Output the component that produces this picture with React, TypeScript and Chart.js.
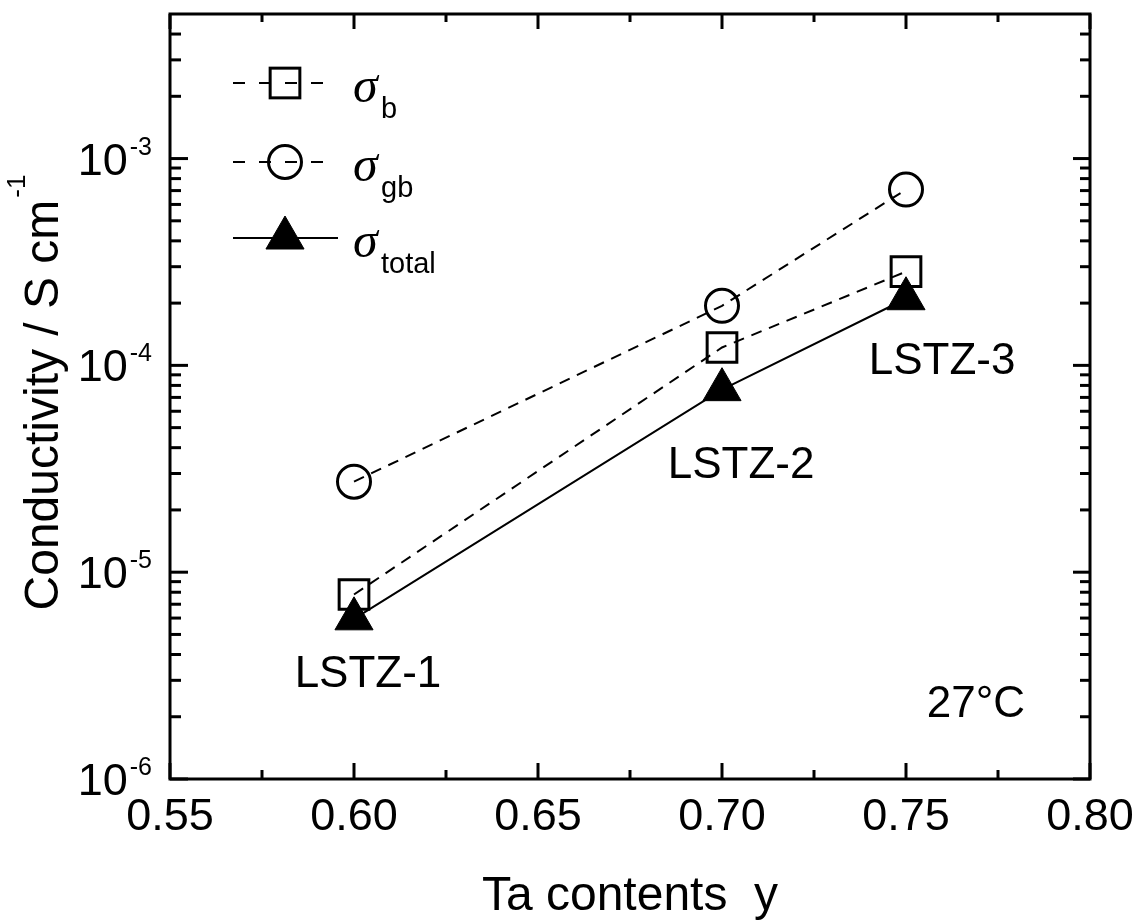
import React, { useEffect, useRef } from 'react';
import { Chart, registerables } from 'chart.js';

Chart.register(...registerables);

// ---- data ----
const taContents = [0.6, 0.7, 0.75];
const sigmaBulk = [7.8e-6, 1.22e-4, 2.84e-4];
const sigmaGb = [2.74e-5, 1.94e-4, 7.08e-4];
const sigmaTotal = [5.95e-6, 7.63e-5, 2.1e-4];

const sampleLabels = ['LSTZ-1', 'LSTZ-2', 'LSTZ-3'];
const sampleLabelX = [0.6038, 0.7052, 0.7598];
const sampleLabelY = [3.19e-6, 3.27e-5, 1.042e-4];
const temperatureLabel = '27°C';
const temperatureX = 0.769;
const temperatureY = 2.28e-6;

const xMajorTicks = [0.55, 0.6, 0.65, 0.7, 0.75, 0.8];
const xMinorTicks = [0.575, 0.625, 0.675, 0.725, 0.775];
const yDecades = [-6, -5, -4, -3];
const yMinorMultipliers = [2, 3, 4, 5, 6, 7, 8, 9];

const X_MIN = 0.55;
const X_MAX = 0.8;
const Y_MIN = 1e-6;
const Y_MAX = 5e-3;

const xTitle = 'Ta contents  y';
const yTitle = 'Conductivity / S cm';
const yTitleSup = '-1';

const legendItems = [
  { style: 'rect', dashed: true, sub: 'b' },
  { style: 'circle', dashed: true, sub: 'gb' },
  { style: 'triangle', dashed: false, sub: 'total' },
];

const SANS = '"Liberation Sans", Arial, sans-serif';
const SERIF = '"Liberation Serif", "Times New Roman", serif';

function drawMarker(ctx: CanvasRenderingContext2D, style: string, x: number, y: number) {
  ctx.save();
  ctx.setLineDash([]);
  ctx.strokeStyle = '#000';
  ctx.fillStyle = '#000';
  if (style === 'rect') {
    ctx.lineWidth = 3;
    const h = 21 * Math.SQRT1_2;
    ctx.strokeRect(x - h, y - h, 2 * h, 2 * h);
  } else if (style === 'circle') {
    ctx.lineWidth = 3;
    ctx.beginPath();
    ctx.arc(x, y, 16.5, 0, Math.PI * 2);
    ctx.stroke();
  } else {
    const r = 22;
    ctx.lineWidth = 1;
    ctx.beginPath();
    ctx.moveTo(x, y - r);
    ctx.lineTo(x + r * Math.sin((2 * Math.PI) / 3), y + r * 0.5);
    ctx.lineTo(x - r * Math.sin((2 * Math.PI) / 3), y + r * 0.5);
    ctx.closePath();
    ctx.fill();
    ctx.stroke();
  }
  ctx.restore();
}

const decorPlugin = {
  id: 'decor',
  afterDraw(chart: any) {
    const ctx: CanvasRenderingContext2D = chart.ctx;
    const { left, right, top, bottom } = chart.chartArea;
    const xs = chart.scales.x;
    const ys = chart.scales.y;
    ctx.save();
    ctx.strokeStyle = '#000';
    ctx.fillStyle = '#000';
    ctx.setLineDash([]);

    // frame
    ctx.lineWidth = 3;
    ctx.strokeRect(left, top, right - left, bottom - top);

    const tick = (x1: number, y1: number, x2: number, y2: number) => {
      ctx.beginPath();
      ctx.moveTo(x1, y1);
      ctx.lineTo(x2, y2);
      ctx.stroke();
    };
    // x ticks (bottom + top, inward)
    xMajorTicks.forEach((v) => {
      const px = xs.getPixelForValue(v);
      tick(px, bottom, px, bottom - 16);
      tick(px, top, px, top + 15);
    });
    xMinorTicks.forEach((v) => {
      const px = xs.getPixelForValue(v);
      tick(px, bottom, px, bottom - 9);
      tick(px, top, px, top + 8);
    });

    // y ticks (left + right, inward)
    yDecades.forEach((e) => {
      const base = Math.pow(10, e);
      const py = ys.getPixelForValue(base);
      tick(left, py, left + 18, py);
      tick(right, py, right - 17, py);
      yMinorMultipliers.forEach((m) => {
        const v = m * base;
        if (v >= Y_MAX) return;
        const p = ys.getPixelForValue(v);
        tick(left, p, left + 11, p);
        tick(right, p, right - 10, p);
      });
    });

    // y tick labels 10^e
    ctx.textAlign = 'left';
    ctx.textBaseline = 'alphabetic';
    yDecades.forEach((e) => {
      const py = ys.getPixelForValue(Math.pow(10, e));
      ctx.font = `25px ${SANS}`;
      const sup = String(e);
      const supW = ctx.measureText(sup).width;
      ctx.font = `45px ${SANS}`;
      const w10 = ctx.measureText('10').width;
      const rightEdge = left - 18;
      ctx.fillText('10', rightEdge - supW - 2 - w10, py + 16);
      ctx.font = `25px ${SANS}`;
      ctx.fillText(sup, rightEdge - supW, py - 4);
    });

    // axis titles
    ctx.font = `48px ${SANS}`;
    ctx.textAlign = 'center';
    ctx.fillText(xTitle, (left + right) / 2, 910);

    ctx.save();
    ctx.translate(58, (top + bottom) / 2 - 4);
    ctx.rotate(-Math.PI / 2);
    ctx.textAlign = 'left';
    ctx.font = `48px ${SANS}`;
    const w1 = ctx.measureText(yTitle).width;
    ctx.font = `26px ${SANS}`;
    const w2 = ctx.measureText(yTitleSup).width;
    const start = -(w1 + w2 + 2) / 2;
    ctx.font = `48px ${SANS}`;
    ctx.fillText(yTitle, start, 0);
    ctx.font = `26px ${SANS}`;
    ctx.fillText(yTitleSup, start + w1 + 2, -33);
    ctx.restore();

    // annotations
    ctx.font = `44px ${SANS}`;
    ctx.textAlign = 'center';
    ctx.textBaseline = 'middle';
    sampleLabels.forEach((t, i) => {
      ctx.fillText(t, xs.getPixelForValue(sampleLabelX[i]), ys.getPixelForValue(sampleLabelY[i]));
    });
    ctx.fillText(temperatureLabel, xs.getPixelForValue(temperatureX), ys.getPixelForValue(temperatureY));

    // legend
    const rowY = [83, 162, 238];
    legendItems.forEach((it, i) => {
      const y = rowY[i];
      ctx.save();
      ctx.lineWidth = 2;
      ctx.beginPath();
      if (it.dashed) {
        ctx.setLineDash([12, 14]);
        ctx.moveTo(233, y);
        ctx.lineTo(325, y);
      } else {
        ctx.moveTo(233, y);
        ctx.lineTo(338, y);
      }
      ctx.stroke();
      ctx.restore();
      drawMarker(ctx, it.style, 285, y);
      ctx.textAlign = 'left';
      ctx.textBaseline = 'alphabetic';
      ctx.font = `italic 50px ${SERIF}`;
      ctx.fillText('σ', 353, y + 19);
      ctx.font = `29px ${SANS}`;
      ctx.fillText(it.sub, 381, y + 35);
    });

    ctx.restore();
  },
};

export default function App() {
  const canvasRef = useRef<HTMLCanvasElement | null>(null);

  useEffect(() => {
    const canvas = canvasRef.current;
    if (!canvas) return;
    Chart.defaults.font.family = SANS;
    const mk = (vals: number[]) => taContents.map((x, i) => ({ x, y: vals[i] }));
    const chart = new Chart(canvas, {
      type: 'scatter',
      data: {
        datasets: [
          {
            label: 'σtotal',
            data: mk(sigmaTotal),
            showLine: true,
            borderColor: '#000',
            borderWidth: 2,
            tension: 0,
            pointStyle: 'triangle',
            pointRadius: 22,
            pointHoverRadius: 22,
            pointBorderWidth: 1,
            pointBackgroundColor: '#000',
            pointBorderColor: '#000',
            order: 0,
          },
          {
            label: 'σb',
            data: mk(sigmaBulk),
            showLine: true,
            borderColor: '#000',
            borderWidth: 2,
            borderDash: [11, 8],
            tension: 0,
            pointStyle: 'rect',
            pointRadius: 21,
            pointHoverRadius: 21,
            pointBorderWidth: 3,
            pointBackgroundColor: 'rgba(0,0,0,0)',
            pointBorderColor: '#000',
            order: 1,
          },
          {
            label: 'σgb',
            data: mk(sigmaGb),
            showLine: true,
            borderColor: '#000',
            borderWidth: 2,
            borderDash: [11, 8],
            tension: 0,
            pointStyle: 'circle',
            pointRadius: 16.5,
            pointHoverRadius: 16.5,
            pointBorderWidth: 3,
            pointBackgroundColor: 'rgba(0,0,0,0)',
            pointBorderColor: '#000',
            order: 2,
          },
        ],
      },
      options: {
        responsive: false,
        animation: false,
        devicePixelRatio: 1,
        clip: false as any,
        layout: { autoPadding: false, padding: { top: 14, right: 50, left: 0, bottom: 0 } },
        plugins: { legend: { display: false }, tooltip: { enabled: false } },
        events: [],
        scales: {
          x: {
            type: 'linear',
            min: X_MIN,
            max: X_MAX,
            afterFit: (s: any) => {
              s.height = 143;
              s.paddingLeft = 0;
              s.paddingRight = 0;
            },
            afterBuildTicks: (s: any) => {
              s.ticks = xMajorTicks.map((v) => ({ value: v }));
            },
            grid: { display: false, drawTicks: false },
            border: { display: false },
            ticks: {
              color: '#000',
              font: { size: 45, family: SANS },
              padding: 12,
              maxRotation: 0,
              autoSkip: false,
              callback: (v: any) => Number(v).toFixed(2),
            },
          },
          y: {
            type: 'logarithmic',
            min: Y_MIN,
            max: Y_MAX,
            afterFit: (s: any) => {
              s.width = 170;
              s.paddingTop = 0;
              s.paddingBottom = 0;
            },
            grid: { display: false, drawTicks: false },
            border: { display: false },
            ticks: { display: false },
          },
        },
      },
      plugins: [decorPlugin],
    } as any);
    return () => chart.destroy();
  }, []);

  return (
    <div style={{ position: 'absolute', left: 0, top: 0, width: 1140, height: 922, background: '#fff' }}>
      <canvas ref={canvasRef} width={1140} height={922} style={{ display: 'block' }} />
    </div>
  );
}
